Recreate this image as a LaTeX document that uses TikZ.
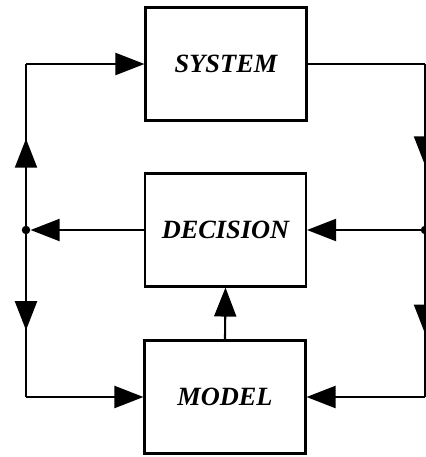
\documentclass[tikz,border=0pt]{standalone}
\usepackage{fontspec}
\setmainfont{Liberation Serif}
\usetikzlibrary{arrows.meta,decorations.markings}

\begin{document}
\begin{tikzpicture}[x=0.02cm, y=-0.02cm,
        block/.style={rectangle, draw, line width=1.2pt, minimum width=3.22cm, minimum height=2.26cm, font=\fontsize{15}{18}\selectfont\bfseries\itshape},
        wire/.style={line width=1.2pt},
        tip/.style={wire, -{Triangle[length=0.58cm, width=0.44cm]}},
        midtip/.style={wire, postaction={decorate}, decoration={markings, mark=at position #1 with {\arrow{Triangle[length=0.58cm, width=0.44cm]}}}},
        joint/.style={circle, fill, inner sep=0pt, minimum size=0.17cm}
    ]
        \useasboundingbox (0,0) rectangle (426,457);
        % the three blocks
        \node[block] (system) at (226,64) {SYSTEM};
        \node[block] (decision) at (225.5,230) {DECISION};
        \node[block] (model) at (225,397) {MODEL};
        % branch points and corners
        \node[joint] (ldot) at (26,230) {};
        \node[joint] (rdot) at (425,230) {};
        \coordinate (ltop) at (26,64);
        \coordinate (lbot) at (26,397);
        \coordinate (rtop) at (425,64);
        \coordinate (rbot) at (425,397);
        % left loop
        \draw[midtip=0.55] (ldot.center) -- (ltop);
        \draw[tip] (ltop) -- (system.west);
        \draw[midtip=0.6] (ldot.center) -- (lbot);
        \draw[tip] (lbot) -- (model.west);
        % right loop
        \draw[wire] (system.east) -- (rtop);
        \draw[midtip=0.61] (rtop) -- (rdot.center);
        \draw[midtip=0.62] (rdot.center) -- (rbot);
        \draw[tip] (rbot) -- (model.east);
        % middle connections
        \draw[tip] (rdot.center) -- (decision.east);
        \draw[tip] (decision.west) -- (ldot.east);
        \draw[tip] (model.north) -- (decision.south);
    \end{tikzpicture}
\end{document}
